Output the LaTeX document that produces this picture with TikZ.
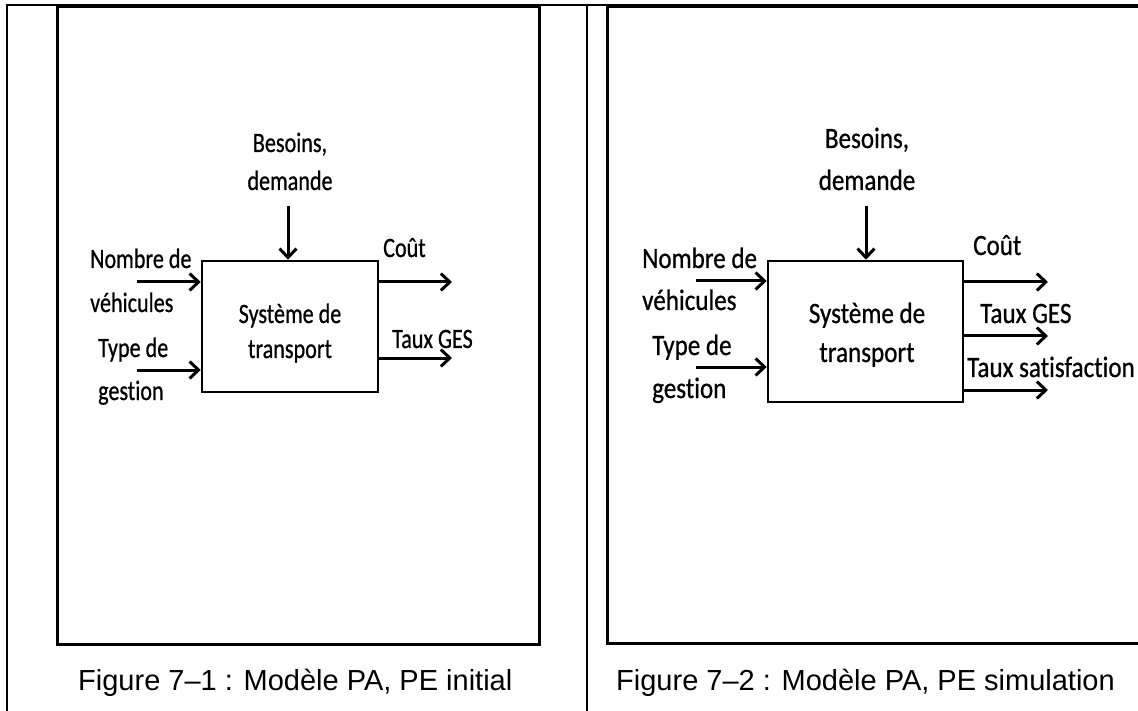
\documentclass[tikz,border=0pt]{standalone}
\usepackage{fontspec}
\usetikzlibrary{arrows.meta, positioning}
\newfontfamily\calib[Ligatures=NoCommon, RawFeature={embolden=0.8}]{Carlito}
\newfontfamily\arialf{Liberation Sans}
\newcommand{\sqzL}[1]{\scalebox{0.79}[1]{#1}}
\newcommand{\sqzR}[1]{\scalebox{0.85}[1]{#1}}

\begin{document}
\begin{tikzpicture}[x=1pt, y=-1pt,
  rule/.style={line width=1.5pt},
  frame/.style={draw, line width=3pt},
  sysbox/.style={draw, line width=2.5pt, inner sep=0pt},
  lblL/.style={inner sep=0pt, font=\calib\fontsize{28}{35}\selectfont},
  lblR/.style={inner sep=0pt, font=\calib\fontsize{29.5}{39}\selectfont},
  caption/.style={inner sep=0pt, anchor=base west,
                  font=\arialf\fontsize{29}{34}\selectfont},
  flow/.style={-{Straight Barb[length=9pt, width=17pt]}, line width=3pt},
]
  \useasboundingbox (0,0) rectangle (1138,711);
  \clip (0,0) rectangle (1138,711);
  % table rules
  \draw[rule] (7,711) -- (7,5) -- (1140,5);
  \draw[rule] (587,5) -- (587,711);
  \draw[frame] (57,7) rectangle (539,644);
  \draw[frame] (607,7) rectangle (1150,643);

  % left model
  \node[sysbox, minimum width=176pt, minimum height=131pt] (sysL) at (290,326.5) {};
  \node[lblL, anchor=base] (sysL1) at (290,323) {\sqzL{Système de}};
  \node[lblL, anchor=base] (sysL2) at (290,358) {\sqzL{transport}};
  \node[lblL, anchor=base] (besL1) at (290,152) {\sqzL{Besoins,}};
  \node[lblL, anchor=base] (besL2) at (290,190) {\sqzL{demande}};
  \node[lblL, anchor=base west] (nbL1) at (90,268) {\sqzL{Nombre de}};
  \node[lblL, anchor=base west] (nbL2) at (90,312) {\sqzL{véhicules}};
  \node[lblL, anchor=base west] (tyL1) at (98,357) {\sqzL{Type de}};
  \node[lblL, anchor=base west] (tyL2) at (98,400) {\sqzL{gestion}};
  \node[lblL, anchor=base west] (coutL) at (383,257) {\sqzL{Coût}};
  \node[lblL, anchor=base west] (gesL) at (392,348) {\sqzL{Taux GES}};
  \coordinate (inL1) at (137,282);
  \coordinate (inL2) at (137,370);
  \coordinate (dnL) at (288,206);
  \coordinate (outL1) at (452,282);
  \coordinate (outL2) at (452,358);
  \foreach \c in {inL1, inL2} {
    \draw[flow] (\c) -- (\c -| sysL.west);
  }
  \draw[flow] (dnL) -- (dnL |- sysL.north);
  \foreach \c in {outL1, outL2} {
    \draw[flow] (sysL.east |- \c) -- (\c);
  }
  \node[caption] (capL) at (78,690) {Figure 7–1 : Modèle PA, PE initial};

  % right model
  \node[sysbox, minimum width=195pt, minimum height=141pt] (sysR) at (865.5,331.5) {};
  \node[lblR, anchor=base] (sysR1) at (867,323) {\sqzR{Système de}};
  \node[lblR, anchor=base] (sysR2) at (867,362) {\sqzR{transport}};
  \node[lblR, anchor=base] (besR1) at (867,148) {\sqzR{Besoins,}};
  \node[lblR, anchor=base] (besR2) at (867,190) {\sqzR{demande}};
  \node[lblR, anchor=base west] (nbR1) at (642,268) {\sqzR{Nombre de}};
  \node[lblR, anchor=base west] (nbR2) at (642,310) {\sqzR{véhicules}};
  \node[lblR, anchor=base west] (tyR1) at (652,355) {\sqzR{Type de}};
  \node[lblR, anchor=base west] (tyR2) at (652,398) {\sqzR{gestion}};
  \node[lblR, anchor=base west] (coutR) at (973,255) {\sqzR{Coût}};
  \node[lblR, anchor=base west] (gesR) at (980,323) {\sqzR{Taux GES}};
  \node[lblR, anchor=base west] (satR) at (967,377) {\sqzR{Taux satisfaction}};
  \coordinate (inR1) at (696,281);
  \coordinate (inR2) at (696,367);
  \coordinate (dnR) at (866,206);
  \coordinate (outR1) at (1048,282);
  \coordinate (outR2) at (1048,336);
  \coordinate (outR3) at (1048,390);
  \foreach \c in {inR1, inR2} {
    \draw[flow] (\c) -- (\c -| sysR.west);
  }
  \draw[flow] (dnR) -- (dnR |- sysR.north);
  \foreach \c in {outR1, outR2, outR3} {
    \draw[flow] (sysR.east |- \c) -- (\c);
  }
  \node[caption] (capR) at (616,690) {Figure 7–2 : Modèle PA, PE simulation};
\end{tikzpicture}
\end{document}
